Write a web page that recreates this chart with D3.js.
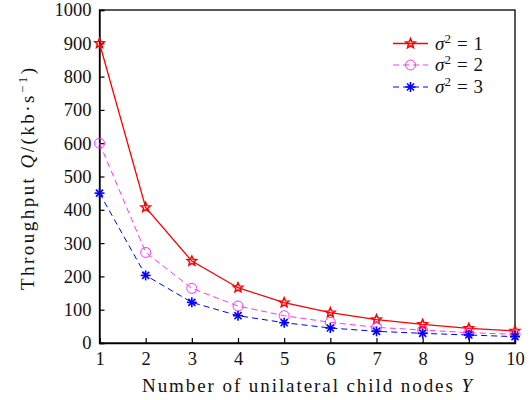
<!DOCTYPE html>
<html><head><meta charset="utf-8">
<script src="https://cdn.jsdelivr.net/npm/d3@7"></script>
<style>
html,body{margin:0;padding:0;background:#fff;}
</style></head>
<body>
<svg id="chart" width="531" height="400"></svg>
<script>
const xValues = [1,2,3,4,5,6,7,8,9,10];
const sigma1 = [900,407,246,166,121,91,70,56,44,36];
const sigma2 = [600,272,164,111,82,62,47,39,31,26];
const sigma3 = [450,203,122,82,61,45,35,29,24,19];
const xTicks = [1,2,3,4,5,6,7,8,9,10];
const yTicks = [0,100,200,300,400,500,600,700,800,900,1000];
const seriesNames = ["1","2","3"];

const FONT = '"Liberation Serif", "Times New Roman", serif';
const svg = d3.select("#chart");
const m = {left:99.5, right:515, top:10, bottom:343};
const x = d3.scaleLinear().domain([1,10]).range([m.left, m.right]);
const y = d3.scaleLinear().domain([0,1000]).range([m.bottom, m.top]);

svg.append("rect").attr("x",m.left).attr("y",m.top)
  .attr("width",m.right-m.left).attr("height",m.bottom-m.top)
  .attr("fill","none").attr("stroke","#000").attr("stroke-width",1.3);

const xAxis = svg.append("g").attr("transform",`translate(0,${m.bottom})`)
  .call(d3.axisBottom(x).tickValues(xTicks).tickSize(-5).tickPadding(9).tickFormat(d3.format("d")));
const yAxis = svg.append("g").attr("transform",`translate(${m.left},0)`)
  .call(d3.axisLeft(y).tickValues(yTicks).tickSize(-5).tickPadding(8).tickFormat(d3.format("d")));
[xAxis,yAxis].forEach(a=>{
  a.attr("font-family",FONT).attr("font-size",18);
  a.select(".domain").attr("stroke","#000").attr("stroke-width",1.3);
  a.selectAll(".tick line").attr("stroke","#000").attr("stroke-width",1.2);
  a.selectAll("text").attr("fill","#111").style("font-family",FONT).style("font-size","18.5px");
});

svg.append("text").attr("x",142).attr("y",392).attr("fill","#111")
  .style("font-family",FONT).style("font-size","19px")
  .attr("textLength",330).attr("lengthAdjust","spacing")
  .html('Number of unilateral child nodes <tspan font-style="italic">Y</tspan>');
const yl = svg.append("text").attr("transform","translate(34,290) rotate(-90)").attr("fill","#111")
  .style("font-family",FONT).style("font-size","19px")
  .attr("textLength",222).attr("lengthAdjust","spacing");
yl.html('Throughput <tspan font-style="italic">Q</tspan>/(kb·s<tspan dy="-7" font-size="13">−1</tspan><tspan dy="7">)</tspan>');

function star(g, cx, cy, r, color){
  const pts=[];
  for(let i=0;i<10;i++){
    const rr = i%2===0? r : r*0.45;
    const a = -Math.PI/2 + i*Math.PI/5;
    pts.push([cx+rr*Math.cos(a), cy+rr*Math.sin(a)]);
  }
  g.append("polygon").attr("points",pts.map(p=>p.join(",")).join(" "))
    .attr("fill","none").attr("stroke",color).attr("stroke-width",1.5);
}
function circ(g,cx,cy,color){
  g.append("circle").attr("cx",cx).attr("cy",cy).attr("r",5)
   .attr("fill","none").attr("stroke",color).attr("stroke-width",1);
}
function ast(g,cx,cy,color){
  const r=5;
  for(let i=0;i<4;i++){
    const a=i*Math.PI/4;
    g.append("line").attr("x1",cx-r*Math.cos(a)).attr("y1",cy-r*Math.sin(a))
      .attr("x2",cx+r*Math.cos(a)).attr("y2",cy+r*Math.sin(a))
      .attr("stroke",color).attr("stroke-width",1.6);
  }
}

const series = [
  {vals:sigma1, color:"#ff0000", dash:null, w:1.3, mk:(g,a,b)=>star(g,a,b,5,"#ff0000")},
  {vals:sigma2, color:"#ff33ff", dash:"6,4", w:1, mk:(g,a,b)=>circ(g,a,b,"#ff33ff")},
  {vals:sigma3, color:"#0000ff", dash:"6,4", w:1, mk:(g,a,b)=>ast(g,a,b,"#0000ff")}
];
const line = d3.line().x((d,i)=>x(xValues[i])).y(d=>y(d));
series.forEach(s=>{
  svg.append("path").datum(s.vals).attr("d",line).attr("fill","none")
    .attr("stroke",s.color).attr("stroke-width",s.w)
    .attr("stroke-dasharray",s.dash);
  const g = svg.append("g");
  s.vals.forEach((v,i)=>s.mk(g,x(xValues[i]),y(v)));
});

const ly=[43.5,65,87];
series.forEach((s,i)=>{
  svg.append("line").attr("x1",393).attr("x2",428).attr("y1",ly[i]).attr("y2",ly[i])
    .attr("stroke",s.color).attr("stroke-width",s.w).attr("stroke-dasharray",s.dash);
  const g=svg.append("g"); s.mk(g,410.5,ly[i]);
  svg.append("text").attr("x",435).attr("y",ly[i]+6).attr("fill","#111")
    .style("font-family",FONT).style("font-size","19px")
    .html(`<tspan font-style="italic">σ</tspan><tspan dy="-7" font-size="13">2</tspan><tspan dy="7" dx="6">=</tspan><tspan dx="6">${seriesNames[i]}</tspan>`);
});
</script>
</body></html>
